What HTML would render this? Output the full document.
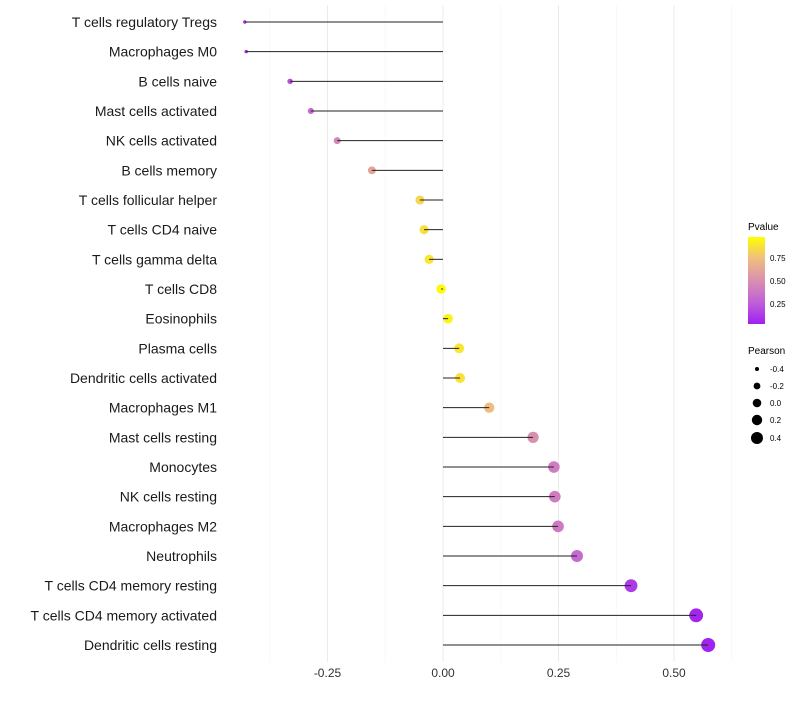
<!DOCTYPE html>
<html><head><meta charset="utf-8"><style>
body{margin:0;background:#fff;}
svg{font-family:"Liberation Sans",sans-serif;}
</style></head><body>
<svg id="chart" width="800" height="700">
<defs><linearGradient id="pg" x1="0" y1="1" x2="0" y2="0">
<stop offset="0" stop-color="#a020f0"/><stop offset="0.25" stop-color="#c060d8"/><stop offset="0.5" stop-color="#d990b0"/><stop offset="0.75" stop-color="#efbd80"/><stop offset="1" stop-color="#ffff00"/>
</linearGradient></defs>
<g id="grid"></g><g id="dots"></g><g id="marks"></g><g id="labels"></g>
<g>
<text x="748" y="230" font-size="10">Pvalue</text>
<rect x="748" y="237" width="17" height="87" fill="url(#pg)"/>
<text x="770" y="261" font-size="8">0.75</text>
<text x="770" y="284" font-size="8">0.50</text>
<text x="770" y="307" font-size="8">0.25</text>
</g>
<g>
<text x="748" y="354" font-size="10">Pearson</text>
<circle cx="757" cy="369" r="2"/><text x="770" y="372" font-size="8">-0.4</text>
<circle cx="757" cy="386" r="3.4"/><text x="770" y="389" font-size="8">-0.2</text>
<circle cx="757" cy="403" r="4.3"/><text x="770" y="406" font-size="8">0.0</text>
<circle cx="757" cy="420" r="5.2"/><text x="770" y="423" font-size="8">0.2</text>
<circle cx="757" cy="438" r="6"/><text x="770" y="441" font-size="8">0.4</text>
</g>
</svg>
<script>
const categories=["T cells regulatory  Tregs","Macrophages M0","B cells naive","Mast cells activated","NK cells activated","B cells memory","T cells follicular helper","T cells CD4 naive","T cells gamma delta","T cells CD8","Eosinophils","Plasma cells","Dendritic cells activated","Macrophages M1","Mast cells resting","Monocytes","NK cells resting","Macrophages M2","Neutrophils","T cells CD4 memory resting","T cells CD4 memory activated","Dendritic cells resting"];
const pearson=[-0.429,-0.426,-0.331,-0.286,-0.229,-0.154,-0.050,-0.041,-0.030,-0.004,0.011,0.035,0.037,0.100,0.195,0.240,0.242,0.249,0.290,0.407,0.548,0.574];
const pvalues=[0.05,0.06,0.18,0.3,0.45,0.62,0.85,0.88,0.9,0.99,0.96,0.9,0.89,0.75,0.5,0.4,0.4,0.38,0.3,0.1,0.02,0.01];
const xTicks=[-0.25,0,0.25,0.5];
const xTickLabels=["-0.25","0.00","0.25","0.50"];
const NS="http://www.w3.org/2000/svg";
const x=v=>443+v*462;
const y=i=>22+i*(623/21);
const stops=[[0,[160,32,240]],[0.25,[192,96,216]],[0.5,[217,144,176]],[0.75,[239,189,128]],[1,[255,255,0]]];
function col(p){p=Math.max(0,Math.min(1,p));for(let k=1;k<stops.length;k++){if(p<=stops[k][0]){const a=stops[k-1],b=stops[k],t=(p-a[0])/(b[0]-a[0]);return "rgb("+a[1].map((c,j)=>Math.round(c+(b[1][j]-c)*t)).join(",")+")";}}}
function mk(tag,at,parent){const e=document.createElementNS(NS,tag);for(const k in at)e.setAttribute(k,at[k]);document.getElementById(parent).appendChild(e);return e;}
[-0.375,-0.125,0.125,0.375,0.625].forEach(v=>{const l=mk('line',{x1:x(v),x2:x(v),y1:5,y2:662,stroke:'#f4f4f4','stroke-width':0.6},'grid');

});
xTicks.forEach((v,i)=>{const l=mk('line',{x1:x(v),x2:x(v),y1:5,y2:662,stroke:'#ebebeb','stroke-width':1},'grid');


const t=mk('text',{x:x(v),y:677,'font-size':12,'text-anchor':'middle',fill:'#333'},'labels');t.textContent=xTickLabels[i];

});
categories.forEach((c,i)=>{
const r=Math.sqrt(Math.max(2.5,22.7+46*pearson[i]));
const d=mk('circle',{cx:x(pearson[i]),cy:y(i),r:r,fill:col(pvalues[i])},'dots');


const l=mk('line',{x1:x(0),x2:x(pearson[i]),y1:y(i),y2:y(i),stroke:'#222','stroke-width':1},'marks');


const t=mk('text',{x:217,y:y(i)+5,'font-size':14,'text-anchor':'end',fill:'#1a1a1a'},'labels');t.textContent=c;


});
</script>
</body></html>
